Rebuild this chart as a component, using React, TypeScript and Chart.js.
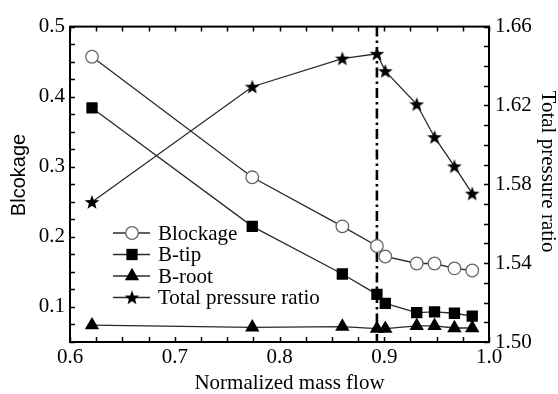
import React, { useEffect, useRef } from 'react';
import { Chart, registerables } from 'chart.js';

Chart.register(...registerables);

// ---- data ----
const massFlow = [0.621, 0.774, 0.860, 0.893, 0.901, 0.931, 0.948, 0.967, 0.984];
const blockage = [0.457, 0.285, 0.215, 0.187, 0.172, 0.162, 0.162, 0.155, 0.152];
const bTip = [0.384, 0.215, 0.147, 0.118, 0.105, 0.092, 0.093, 0.091, 0.087];
const bRoot = [0.074, 0.071, 0.072, 0.069, 0.069, 0.073, 0.073, 0.070, 0.070];
const totalPressureRatio = [1.571, 1.6295, 1.6438, 1.6462, 1.6374, 1.6206, 1.6039, 1.5891, 1.5753];

const xTicks = [0.6, 0.7, 0.8, 0.9, 1.0];
const leftTicks = [0.1, 0.2, 0.3, 0.4, 0.5];
const rightTicks = [1.5, 1.54, 1.58, 1.62, 1.66];
const xMinorStep = 0.025;
const leftMinorStep = 0.025;
const rightMinorStep = 0.01;
const stallLine = 0.893;

const xTitle = 'Normalized mass flow';
const leftTitle = 'Blcokage';
const rightTitle = 'Total pressure ratio';
const seriesNames = ['Blockage', 'B-tip', 'B-root', 'Total pressure ratio'];

const SERIF = '"Liberation Serif", "Times New Roman", serif';
const SANS = '"Liberation Sans", Arial, sans-serif';

const W = 550;
const H = 386;

function makeStar(size: number): HTMLCanvasElement {
  const c = document.createElement('canvas');
  c.width = size;
  c.height = size;
  const ctx = c.getContext('2d')!;
  const cx = size / 2;
  const cy = size / 2 + 0.6;
  const R = size / 2 - 0.3;
  const r = R * 0.42;
  ctx.beginPath();
  for (let i = 0; i < 10; i++) {
    const a = -Math.PI / 2 + (i * Math.PI) / 5;
    const rad = i % 2 === 0 ? R : r;
    const px = cx + rad * Math.cos(a);
    const py = cy + rad * Math.sin(a);
    if (i === 0) ctx.moveTo(px, py);
    else ctx.lineTo(px, py);
  }
  ctx.closePath();
  ctx.fillStyle = '#000';
  ctx.fill();
  return c;
}

function drawMarker(ctx: CanvasRenderingContext2D, ds: any, x: number, y: number) {
  const style = ds.pointStyle;
  const r = ds.pointRadius;
  ctx.save();
  ctx.fillStyle = ds.pointBackgroundColor;
  ctx.strokeStyle = ds.pointBorderColor;
  ctx.lineWidth = ds.pointBorderWidth;
  ctx.setLineDash([]);
  if (style instanceof HTMLCanvasElement) {
    ctx.drawImage(style, x - style.width / 2, y - style.height / 2);
  } else if (style === 'circle') {
    ctx.beginPath();
    ctx.arc(x, y, r, 0, Math.PI * 2);
    ctx.fill();
    ctx.stroke();
  } else if (style === 'rect') {
    const s = Math.SQRT1_2 * r;
    ctx.beginPath();
    ctx.rect(x - s, y - s, 2 * s, 2 * s);
    ctx.fill();
  } else if (style === 'triangle') {
    ctx.beginPath();
    for (let i = 0; i < 3; i++) {
      const a = (i * 2 * Math.PI) / 3;
      const px = x + Math.sin(a) * r;
      const py = y - Math.cos(a) * r;
      if (i === 0) ctx.moveTo(px, py);
      else ctx.lineTo(px, py);
    }
    ctx.closePath();
    ctx.fill();
  }
  ctx.restore();
}

const decorPlugin = {
  id: 'decor',
  beforeDatasetsDraw(chart: any) {
    const { ctx, chartArea: a, scales } = chart;
    const x = scales.x.getPixelForValue(stallLine);
    ctx.save();
    ctx.strokeStyle = '#000';
    ctx.lineWidth = 2.6;
    ctx.setLineDash([10, 4, 2.5, 4]);
    ctx.beginPath();
    ctx.moveTo(x, a.top);
    ctx.lineTo(x, a.bottom);
    ctx.stroke();
    ctx.restore();
  },
  afterDraw(chart: any) {
    const { ctx, chartArea: a, scales } = chart;
    const sx = scales.x;
    const sy = scales.y;
    const sy1 = scales.y1;
    ctx.save();
    // ticks (inward)
    ctx.strokeStyle = '#000';
    ctx.lineWidth = 1.5;
    ctx.beginPath();
    const tl = 5;
    for (let i = 0; ; i++) {
      const v = sx.min + i * xMinorStep;
      if (v > sx.max + 1e-9) break;
      const px = Math.round(sx.getPixelForValue(v)) + 0.5;
      ctx.moveTo(px, a.bottom);
      ctx.lineTo(px, a.bottom - tl);
      ctx.moveTo(px, a.top);
      ctx.lineTo(px, a.top + tl);
    }
    for (let i = 0; ; i++) {
      const v = sy.min + i * leftMinorStep;
      if (v > sy.max + 1e-9) break;
      const py = Math.round(sy.getPixelForValue(v)) + 0.5;
      ctx.moveTo(a.left, py);
      ctx.lineTo(a.left + tl, py);
    }
    for (let i = 0; ; i++) {
      const v = sy1.min + i * rightMinorStep;
      if (v > sy1.max + 1e-9) break;
      const py = Math.round(sy1.getPixelForValue(v)) + 0.5;
      ctx.moveTo(a.right, py);
      ctx.lineTo(a.right - tl, py);
    }
    ctx.stroke();
    // frame
    ctx.lineWidth = 2;
    ctx.strokeRect(a.left, a.top, a.right - a.left, a.bottom - a.top);

    // legend
    const lx0 = 105;
    const lx1 = 142;
    const mx = 124;
    const tx = 150;
    const rows = [225, 246.5, 268, 289.5];
    ctx.font = `21px ${SERIF}`;
    ctx.fillStyle = '#000';
    ctx.textAlign = 'left';
    ctx.textBaseline = 'middle';
    chart.data.datasets.forEach((ds: any, i: number) => {
      const y = rows[i];
      ctx.save();
      ctx.strokeStyle = ds.borderColor;
      ctx.lineWidth = ds.borderWidth;
      ctx.beginPath();
      ctx.moveTo(lx0, y);
      ctx.lineTo(lx1, y);
      ctx.stroke();
      ctx.restore();
      drawMarker(ctx, ds, mx, y);
      ctx.fillStyle = '#000';
      ctx.fillText(ds.label, tx, y + 1);
    });

    // axis titles
    ctx.fillStyle = '#000';
    ctx.textAlign = 'center';
    ctx.textBaseline = 'alphabetic';
    ctx.font = `21px ${SERIF}`;
    ctx.fillText(xTitle, 281.5, 381);

    ctx.save();
    ctx.font = `20px ${SANS}`;
    ctx.translate(17, 167);
    ctx.rotate(-Math.PI / 2);
    ctx.fillText(leftTitle, 0, 0);
    ctx.restore();

    ctx.save();
    ctx.font = `21px ${SERIF}`;
    ctx.translate(534, 163.5);
    ctx.rotate(Math.PI / 2);
    ctx.fillText(rightTitle, 0, 0);
    ctx.restore();

    ctx.restore();
  },
};

export default function App() {
  const ref = useRef<HTMLCanvasElement | null>(null);

  useEffect(() => {
    if (!ref.current) return;
    const star = makeStar(16);
    const pts = (ys: number[]) => massFlow.map((x, i) => ({ x, y: ys[i] }));
    const lineColor = '#2a2a2a';
    const tickFont = { family: SERIF, size: 21 };

    const chart = new Chart(ref.current, {
      type: 'line',
      data: {
        datasets: [
          {
            label: seriesNames[0],
            data: pts(blockage),
            yAxisID: 'y',
            borderColor: lineColor,
            borderWidth: 1.3,
            pointStyle: 'circle',
            pointRadius: 6.3,
            pointBackgroundColor: '#fff',
            pointBorderColor: '#666',
            pointBorderWidth: 1.3,
          },
          {
            label: seriesNames[1],
            data: pts(bTip),
            yAxisID: 'y',
            borderColor: lineColor,
            borderWidth: 1.3,
            pointStyle: 'rect',
            pointRadius: 8,
            pointBackgroundColor: '#000',
            pointBorderColor: '#000',
            pointBorderWidth: 0,
          },
          {
            label: seriesNames[2],
            data: pts(bRoot),
            yAxisID: 'y',
            borderColor: lineColor,
            borderWidth: 1.3,
            pointStyle: 'triangle',
            pointRadius: 8.3,
            pointBackgroundColor: '#000',
            pointBorderColor: '#000',
            pointBorderWidth: 0,
          },
          {
            label: seriesNames[3],
            data: pts(totalPressureRatio),
            yAxisID: 'y1',
            borderColor: lineColor,
            borderWidth: 1.3,
            pointStyle: star as any,
            pointRadius: 8,
            pointBackgroundColor: '#000',
            pointBorderColor: '#000',
            pointBorderWidth: 0,
          },
        ],
      },
      options: {
        animation: false,
        responsive: false,
        layout: { padding: { top: 9, left: 0, right: 0, bottom: 0 } },
        plugins: {
          legend: { display: false },
          tooltip: { enabled: false },
        },
        scales: {
          x: {
            type: 'linear',
            min: 0.6,
            max: 1.0,
            grid: { display: false, drawTicks: false, tickLength: 0 },
            border: { display: false },
            afterBuildTicks: (s: any) => {
              s.ticks = xTicks.map((v) => ({ value: v }));
            },
            afterFit: (s: any) => {
              s.height = H - 334;
            },
            ticks: {
              font: tickFont,
              color: '#000',
              padding: 3,
              maxRotation: 0,
              autoSkip: false,
              callback: (v: any) => Number(v).toFixed(1),
            },
          },
          y: {
            type: 'linear',
            position: 'left',
            min: 0.05,
            max: 0.5,
            grid: { display: false, drawTicks: false, tickLength: 0 },
            border: { display: false },
            afterBuildTicks: (s: any) => {
              s.ticks = leftTicks.map((v) => ({ value: v }));
            },
            afterFit: (s: any) => {
              s.width = 62;
            },
            ticks: {
              font: tickFont,
              color: '#000',
              padding: 5,
              autoSkip: false,
              callback: (v: any) => Number(v).toFixed(1),
            },
          },
          y1: {
            type: 'linear',
            position: 'right',
            min: 1.5,
            max: 1.66,
            grid: { display: false, drawTicks: false, tickLength: 0 },
            border: { display: false },
            afterBuildTicks: (s: any) => {
              s.ticks = rightTicks.map((v) => ({ value: v }));
            },
            afterFit: (s: any) => {
              s.width = W - 481;
            },
            ticks: {
              font: tickFont,
              color: '#000',
              padding: 6,
              autoSkip: false,
              callback: (v: any) => Number(v).toFixed(2),
            },
          },
        },
      },
      plugins: [decorPlugin],
    });
    return () => chart.destroy();
  }, []);

  return (
    <div style={{ position: 'absolute', left: 8, top: 8, width: W, height: H }}>
      <canvas ref={ref} width={W} height={H} style={{ display: 'block', width: W, height: H }} />
    </div>
  );
}
